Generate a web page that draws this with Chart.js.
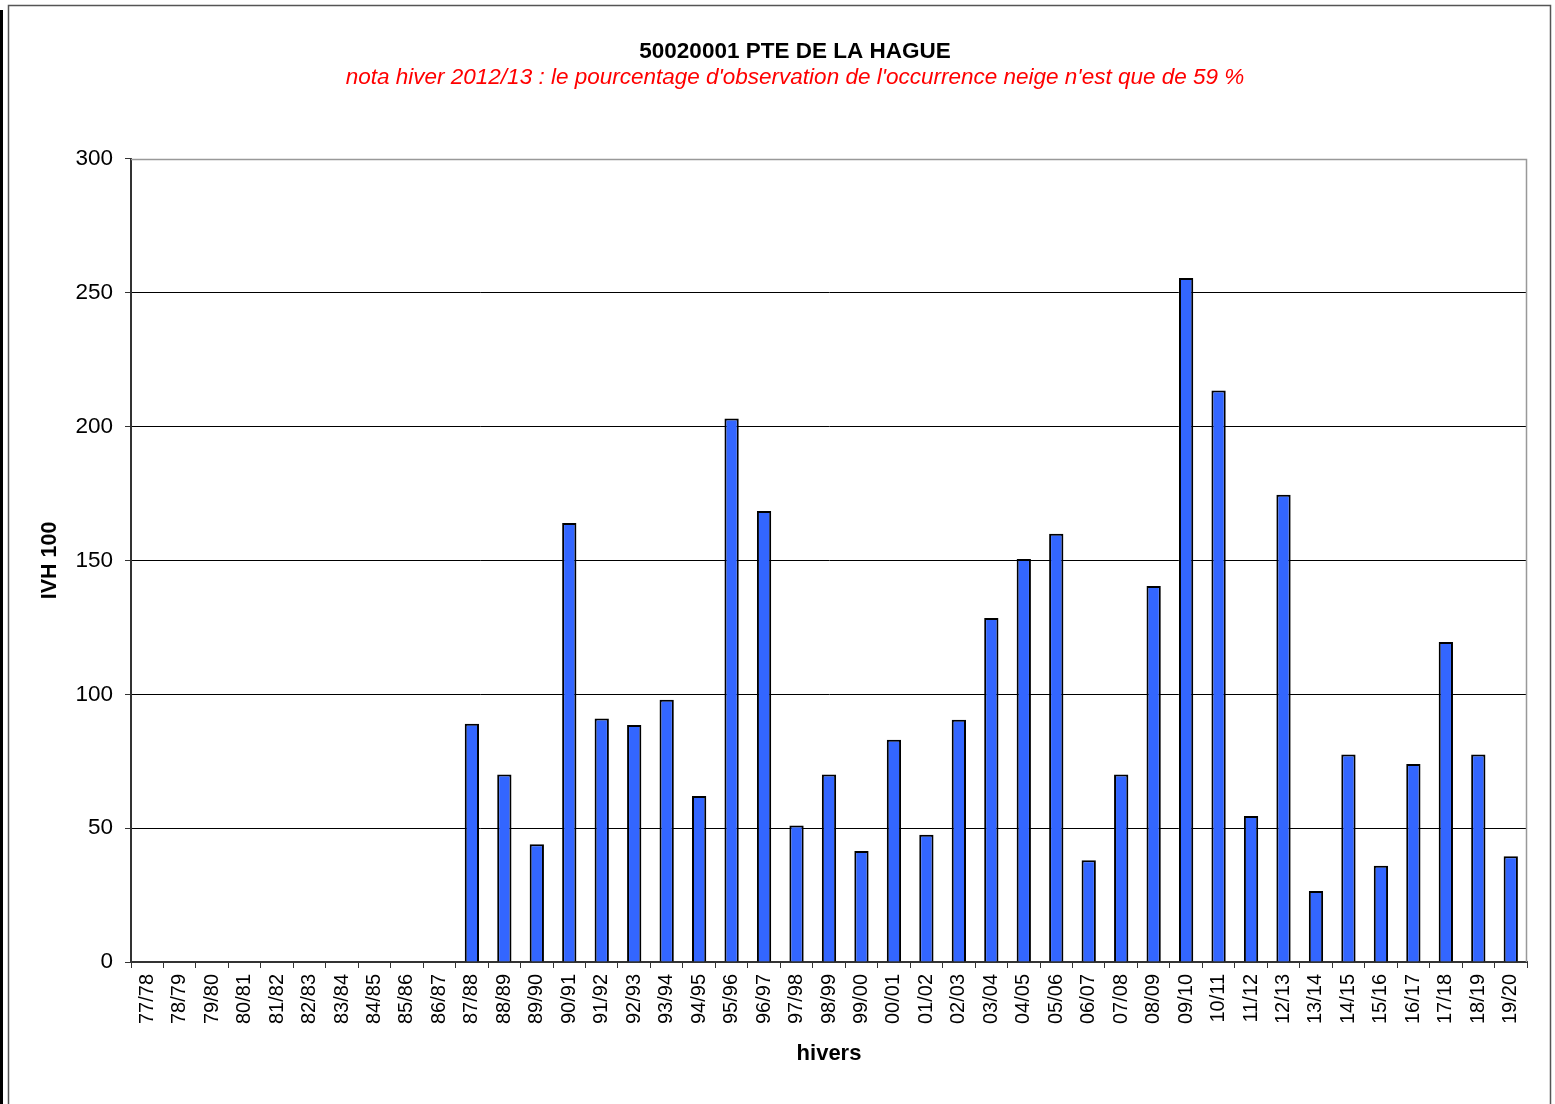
<!DOCTYPE html>
<html>
<head>
<meta charset="utf-8">
<script src="https://cdn.jsdelivr.net/npm/chart.js@4/dist/chart.umd.min.js"></script>
<style>
html,body{margin:0;padding:0;background:#fff;}
#wrap{width:1555px;height:1104px;position:relative;}
</style>
</head>
<body>
<div id="wrap"><canvas id="c" width="1555" height="1104"></canvas></div>
<script>
const categories = ["77/78","78/79","79/80","80/81","81/82","82/83","83/84","84/85","85/86","86/87",
  "87/88","88/89","89/90","90/91","91/92","92/93","93/94","94/95","95/96","96/97",
  "97/98","98/99","99/00","00/01","01/02","02/03","03/04","04/05","05/06","06/07",
  "07/08","08/09","09/10","10/11","11/12","12/13","13/14","14/15","15/16","16/17",
  "17/18","18/19","19/20"];
const ivh100 = [null,null,null,null,null,null,null,null,null,null,
  89,70,44,164,91,88.5,98,62,203,168.5,
  51,70,41.5,83,47.5,90.5,128.5,150.5,160,38,
  70,140.5,255.5,213.5,54.5,174.5,26.5,77.5,36,74,
  119.5,77.5,39.5];
const titleText = "50020001 PTE DE LA HAGUE";
const subtitleText = "nota hiver 2012/13 : le pourcentage d'observation de l'occurrence neige n'est que de 59 %";
const yTitle = "IVH 100";
const xTitle = "hivers";

const FONT = "'Liberation Sans', Arial, sans-serif";

const framePlugin = {
  id: 'frame',
  beforeDraw(chart) {
    const ctx = chart.ctx;
    ctx.save();
    ctx.fillStyle = '#fff';
    ctx.fillRect(0, 0, chart.width, chart.height);
    ctx.strokeStyle = '#555';
    ctx.lineWidth = 1.5;
    ctx.beginPath();
    ctx.moveTo(8.5, 1104);
    ctx.lineTo(8.5, 5.5);
    ctx.lineTo(1550.5, 5.5);
    ctx.lineTo(1550.5, 1104);
    ctx.stroke();
    ctx.fillStyle = '#000';
    ctx.fillRect(0, 10, 3, 1094);
    ctx.restore();
  },
  afterDatasetsDraw(chart) {
    const {ctx, chartArea: a} = chart;
    ctx.save();
    ctx.strokeStyle = '#999';
    ctx.lineWidth = 1.5;
    ctx.beginPath();
    ctx.moveTo(a.left, a.top + 0.5);
    ctx.lineTo(a.right - 0.5, a.top + 0.5);
    ctx.lineTo(a.right - 0.5, a.bottom);
    ctx.stroke();
    ctx.restore();
  }
};

new Chart(document.getElementById('c'), {
  type: 'bar',
  data: {
    labels: categories,
    datasets: [{
      data: ivh100,
      backgroundColor: '#3366FF',
      borderColor: '#000',
      borderWidth: 2,
      categoryPercentage: 1,
      barPercentage: 0.44
    }]
  },
  options: {
    responsive: false,
    animation: false,
    devicePixelRatio: 1,
    layout: { padding: { left: 35, right: 0, top: 0, bottom: 0 } },
    plugins: {
      legend: { display: false },
      tooltip: { enabled: false },
      title: {
        display: true, text: titleText, color: '#000',
        font: { family: FONT, size: 22.5, weight: 'bold', lineHeight: 1.1 },
        padding: { top: 39.6, bottom: 1.2 }
      },
      subtitle: {
        display: true, text: subtitleText, color: '#FF0000',
        font: { family: FONT, size: 22.5, style: 'italic', lineHeight: 1.1 },
        padding: { top: 0, bottom: 68.6 }
      }
    },
    scales: {
      x: {
        offset: true,
        grid: { display: true, drawOnChartArea: false, offset: true, tickLength: 6, color: '#333', lineWidth: 1 },
        border: { display: true, color: '#333', width: 2 },
        ticks: { color: '#000', font: { family: FONT, size: 20 }, minRotation: 90, maxRotation: 90, autoSkip: false, padding: 6 },
        title: { display: true, text: xTitle, color: '#000', font: { family: FONT, size: 22, weight: 'bold', lineHeight: 1.2 }, padding: { top: 0, bottom: 36.8 } },
        afterFit(s) { s.height = 142; }
      },
      y: {
        min: 0, max: 300,
        ticks: { stepSize: 50, color: '#000', font: { family: FONT, size: 22.5 }, padding: 12 },
        grid: {
          color: (c) => c.tick && c.tick.value === 300 ? 'rgba(0,0,0,0)' : '#000',
          lineWidth: 1, tickLength: 6, tickColor: '#333'
        },
        border: { display: true, color: '#333', width: 2 },
        title: { display: true, text: yTitle, color: '#000', font: { family: FONT, size: 21.5, weight: 'bold', lineHeight: 1.2 }, padding: { top: 2, bottom: 0 } },
        afterFit(s) { s.width = 96; }
      },
      yRight: {
        position: 'right',
        display: true,
        ticks: { display: false },
        grid: { display: false },
        border: { display: false },
        afterFit(s) { s.width = 28; }
      }
    }
  },
  plugins: [framePlugin]
});
</script>
</body>
</html>
